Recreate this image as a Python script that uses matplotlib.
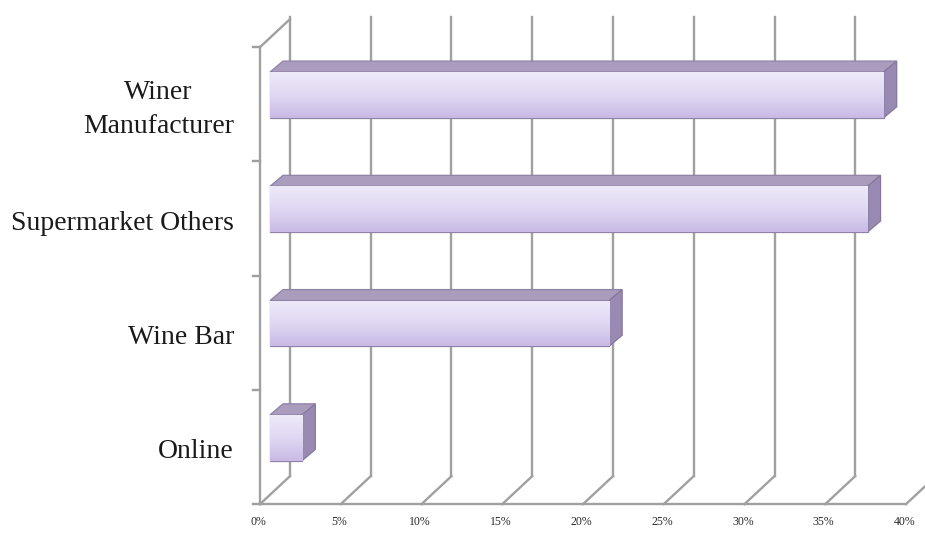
import matplotlib
matplotlib.use("Agg")
import matplotlib.pyplot as plt
import numpy as np
from matplotlib.patches import Polygon
from matplotlib.colors import LinearSegmentedColormap

# ---- data ----
categories = ["Online", "Wine Bar", "Supermarket Others", "Winer\nManufacturer"]
values = [2, 21, 37, 38]          # percent
tick_values = [0, 5, 10, 15, 20, 25, 30, 35, 40]
tick_labels = ["0%", "5%", "10%", "15%", "20%", "25%", "30%", "35%", "40%"]

plt.rcParams['font.family'] = ['Liberation Serif', 'DejaVu Serif']

# ---- geometry (oblique 3-D look) ----
S = 16.15        # px per percent
U = 114.25       # px per category
DX = 30 / S      # full depth (x, data units)
DY = 28 / U      # full depth (y, data units)
BD = 13 / S      # bar depth x
BDY = 11 / U     # bar depth y
BH = 0.4         # bar height
X0 = DX / 3      # bar front plane offset
Y0 = DY / 3

fig = plt.figure(figsize=(9.25, 5.4), dpi=100)
ax = fig.add_axes([0, 0, 1, 1])
ax.axis('off')

grid_c = '#a0a0a0'
lw = 1.7
ytop = 3.5
ybot = -0.5
n = len(categories)

# back-wall gridlines and floor lines
for t in tick_values:
    if t < tick_values[-1]:
        ax.plot([t + DX, t + DX], [ybot + DY, ytop + DY + 0.02], color=grid_c, lw=lw, zorder=1)
    ax.plot([t, t + DX], [ybot, ybot + DY], color=grid_c, lw=lw, zorder=1)
# floor front edge
ax.plot([0, tick_values[-1]], [ybot, ybot], color=grid_c, lw=lw, zorder=1)
# left wall
ax.plot([0, 0], [ybot, ytop], color=grid_c, lw=lw, zorder=1)
ax.plot([0, DX], [ytop, ytop + DY], color=grid_c, lw=lw, zorder=1)
for b in np.arange(ybot, ytop + 0.01, 1.0):
    ax.plot([-0.45, 0], [b, b], color=grid_c, lw=lw, zorder=1)

# bars
ypos = np.arange(n) + Y0
bars = ax.barh(ypos, values, left=X0, height=BH, color='#ddd4f0',
               edgecolor='#8f82a8', linewidth=0.9, zorder=4)
cmap = LinearSegmentedColormap.from_list('lav', ['#c9bae5', '#e0d8f3', '#eee9f9'])
grad = np.linspace(0, 1, 64).reshape(-1, 1)
for bar, v, y in zip(bars, values, ypos):
    x0 = X0
    x1 = X0 + v
    yb = y - BH / 2
    yt = y + BH / 2
    top = Polygon([[x0, yt], [x1, yt], [x1 + BD, yt + BDY], [x0 + BD, yt + BDY]],
                  closed=True, facecolor='#a99cbd', edgecolor='#8f82a8', lw=0.9, zorder=3)
    side = Polygon([[x1, yb], [x1 + BD, yb + BDY], [x1 + BD, yt + BDY], [x1, yt]],
                   closed=True, facecolor='#988ab2', edgecolor='#85789c', lw=0.9, zorder=3)
    ax.add_patch(top)
    ax.add_patch(side)
    im = ax.imshow(grad, extent=[x0, x1, yb, yt], origin='lower', aspect='auto',
                   cmap=cmap, zorder=4.5)
    im.set_clip_path(bar)

# category labels
for i, lab in enumerate(categories):
    ax.text(-26 / S, i - 5 / U, lab, ha='right', va='center', multialignment='center',
            fontsize=20, color='#1a1a1a', linespacing=1.45, zorder=5)

# x tick labels
for t, lab in zip(tick_values, tick_labels):
    ax.text(t - 0.1, ybot - 18 / U, lab, ha='center', va='center', fontsize=8.5,
            color='#2a2a2a', zorder=5)

ax.set_xlim(-260 / S, (925 - 260) / S)
ax.set_ylim((447 - 540) / U, 447 / U)

fig.savefig('out.png', dpi=100, facecolor='white')
